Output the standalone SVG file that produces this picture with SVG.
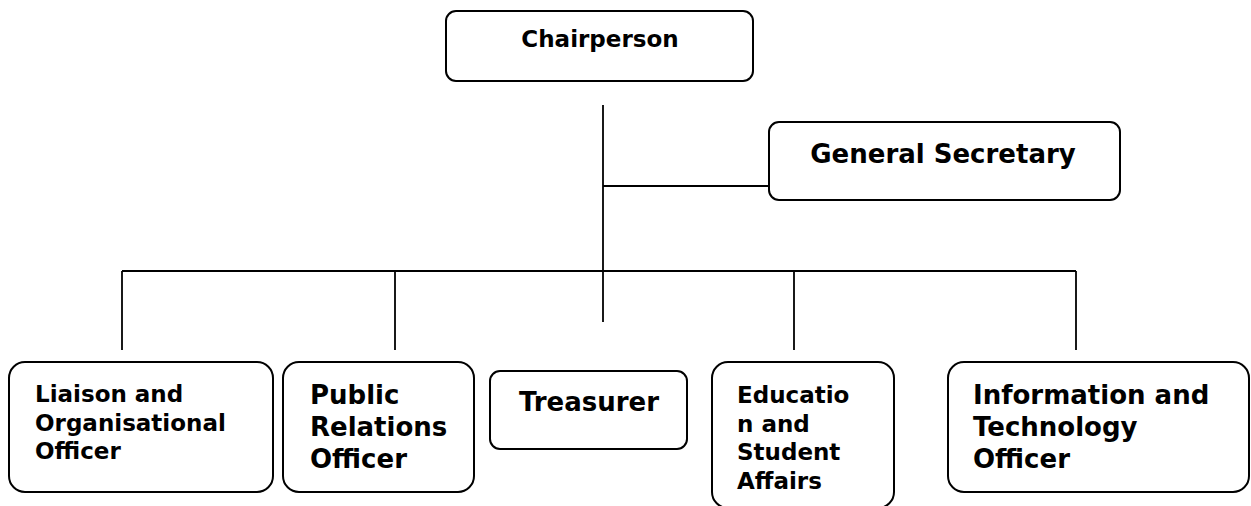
<svg xmlns="http://www.w3.org/2000/svg" width="1251" height="506" viewBox="0 0 1251 506">
<style>
.box{fill:#fff;stroke:#000;stroke-width:2}
.ln{stroke:#000;stroke-width:1.8;fill:none}
.t{font-family:"DejaVu Sans","Liberation Sans",sans-serif;font-weight:bold;fill:#000}
.s23{font-size:23px}
.s26{font-size:26px}
</style>
<rect width="1251" height="506" fill="#fff"/>
<g id="connectors">
<line class="ln" x1="603" y1="105" x2="603" y2="322"/>
<line class="ln" x1="603" y1="186" x2="769" y2="186"/>
<line class="ln" x1="122" y1="271" x2="1076" y2="271"/>
<line class="ln" x1="122" y1="271" x2="122" y2="350"/>
<line class="ln" x1="395" y1="271" x2="395" y2="350"/>
<line class="ln" x1="794" y1="271" x2="794" y2="350"/>
<line class="ln" x1="1076" y1="271" x2="1076" y2="350"/>
</g>
<g id="chairperson">
<rect class="box" x="446" y="11" width="307" height="70" rx="10"/>
<text class="t s23" x="600" y="47" text-anchor="middle">Chairperson</text>
</g>
<g id="general-secretary">
<rect class="box" x="769" y="122" width="351" height="78" rx="10"/>
<text class="t s26" x="943" y="163" text-anchor="middle">General Secretary</text>
</g>
<g id="liaison">
<rect class="box" x="9" y="362" width="264" height="130" rx="16"/>
<text class="t s23" x="35"><tspan x="35" y="402">Liaison and</tspan><tspan x="35" y="431">Organisational</tspan><tspan x="35" y="459">Officer</tspan></text>
</g>
<g id="public-relations">
<rect class="box" x="283" y="362" width="191" height="130" rx="16"/>
<text class="t s26" x="310"><tspan x="310" y="404">Public</tspan><tspan x="310" y="436">Relations</tspan><tspan x="310" y="468">Officer</tspan></text>
</g>
<g id="treasurer">
<rect class="box" x="490" y="371" width="197" height="78" rx="10"/>
<text class="t s26" x="589" y="411" text-anchor="middle">Treasurer</text>
</g>
<g id="education">
<rect class="box" x="712" y="362" width="182" height="146" rx="16"/>
<text class="t s23" x="737"><tspan x="737" y="403">Educatio</tspan><tspan x="737" y="432">n and</tspan><tspan x="737" y="460">Student</tspan><tspan x="737" y="489">Affairs</tspan></text>
</g>
<g id="information-technology">
<rect class="box" x="948" y="362" width="301" height="130" rx="16"/>
<text class="t s26" x="973"><tspan x="973" y="404">Information and</tspan><tspan x="973" y="436">Technology</tspan><tspan x="973" y="468">Officer</tspan></text>
</g>
</svg>
